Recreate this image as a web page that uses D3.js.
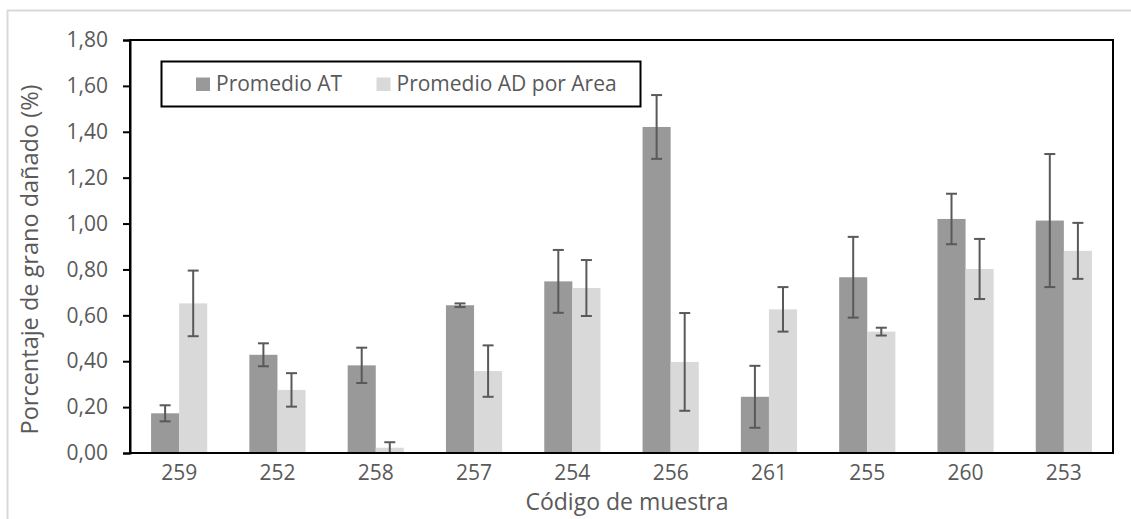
<!DOCTYPE html>
<html>
<head>
<meta charset="utf-8">
<script src="https://cdn.jsdelivr.net/npm/d3@7/dist/d3.min.js"></script>
<style>
  html, body { margin: 0; padding: 0; background: #fff; }
  svg { display: block; font-family: "Open Sans", sans-serif; }
</style>
</head>
<body>
<svg id="chart" width="1131" height="519"></svg>
<script>
// Sample codes along the x axis
const categories = ["259", "252", "258", "257", "254", "256", "261", "255", "260", "253"];
const seriesNames = ["Promedio AT", "Promedio AD por Area"];

// Mean damaged-grain percentage per sample
const promedioAT = [0.173, 0.428, 0.382, 0.644, 0.748, 1.421, 0.245, 0.766, 1.020, 1.013];
const promedioAD = [0.652, 0.275, 0.023, 0.357, 0.719, 0.397, 0.626, 0.529, 0.802, 0.881];

// Error bar half-widths (standard deviation)
const errorAT = [0.035, 0.050, 0.077, 0.008, 0.137, 0.139, 0.135, 0.176, 0.110, 0.290];
const errorAD = [0.143, 0.073, 0.024, 0.112, 0.122, 0.213, 0.097, 0.017, 0.131, 0.122];

const yTicks = [0, 0.2, 0.4, 0.6, 0.8, 1.0, 1.2, 1.4, 1.6, 1.8];

const colors = ["#999999", "#d9d9d9"];
const textColor = "#595959";
const labelSize = "21px";

const svg = d3.select("#chart");

// Outer chart frame
svg.append("rect")
  .attr("x", 7.5).attr("y", 10.5)
  .attr("width", 1140).attr("height", 530)
  .attr("fill", "none").attr("stroke", "#d9d9d9").attr("stroke-width", 2);

const plot = { left: 130, right: 1113, top: 40, bottom: 453 };

const y = d3.scaleLinear().domain([0, 1.8]).range([plot.bottom, plot.top]);

const x0 = d3.scaleBand()
  .domain(categories)
  .range([plot.left, plot.right])
  .paddingInner(1.5 / 3.5)
  .paddingOuter(0.75 / 3.5);

const x1 = d3.scaleBand()
  .domain(seriesNames)
  .range([0, x0.bandwidth()]);

const rows = categories.map((c, i) => ({
  cat: c,
  values: [
    { name: seriesNames[0], v: promedioAT[i], e: errorAT[i], color: colors[0] },
    { name: seriesNames[1], v: promedioAD[i], e: errorAD[i], color: colors[1] }
  ]
}));

// Bars
const groups = svg.append("g").selectAll("g")
  .data(rows).join("g")
  .attr("transform", d => `translate(${x0(d.cat)},0)`);

groups.selectAll("rect")
  .data(d => d.values).join("rect")
  .attr("x", d => x1(d.name))
  .attr("y", d => y(d.v))
  .attr("width", x1.bandwidth())
  .attr("height", d => y(0) - y(d.v))
  .attr("fill", d => d.color);

// Error bars
const capHalf = 5.5;
const eb = groups.selectAll("g.err")
  .data(d => d.values).join("g").attr("class", "err")
  .attr("stroke", "#595959").attr("stroke-width", 2);

const cx = d => x1(d.name) + x1.bandwidth() / 2;
eb.append("line")
  .attr("x1", cx).attr("x2", cx)
  .attr("y1", d => y(d.v + d.e))
  .attr("y2", d => y(Math.max(0, d.v - d.e)));
eb.append("line")
  .attr("x1", d => cx(d) - capHalf)
  .attr("x2", d => cx(d) + capHalf)
  .attr("y1", d => y(d.v + d.e))
  .attr("y2", d => y(d.v + d.e));
eb.append("line")
  .attr("x1", d => cx(d) - capHalf)
  .attr("x2", d => cx(d) + capHalf)
  .attr("y1", d => y(Math.max(0, d.v - d.e)))
  .attr("y2", d => y(Math.max(0, d.v - d.e)));

// Plot area border
svg.append("rect")
  .attr("x", plot.left).attr("y", plot.top)
  .attr("width", plot.right - plot.left).attr("height", plot.bottom - plot.top)
  .attr("fill", "none").attr("stroke", "#000").attr("stroke-width", 2);

// Y axis with comma decimals
const locale = d3.formatLocale({ decimal: ",", thousands: ".", grouping: [3], currency: ["", ""] });
const fmt = locale.format(".2f");

const yAxis = svg.append("g")
  .attr("transform", `translate(${plot.left},0)`)
  .call(d3.axisLeft(y).tickValues(yTicks).tickFormat(fmt).tickSize(7).tickPadding(15));
yAxis.select(".domain").attr("stroke", "#000").attr("stroke-width", 2);
yAxis.selectAll(".tick line").attr("stroke", "#000").attr("stroke-width", 2);
yAxis.selectAll(".tick text")
  .attr("fill", textColor)
  .style("font-size", labelSize)
  .style("font-family", "'Open Sans', sans-serif");

// X axis labels
const xAxis = svg.append("g")
  .attr("transform", `translate(0,${plot.bottom})`)
  .call(d3.axisBottom(x0).tickSize(0).tickPadding(12));
xAxis.select(".domain").remove();
xAxis.selectAll(".tick text")
  .attr("fill", textColor)
  .style("font-size", labelSize)
  .style("font-family", "'Open Sans', sans-serif");

// Axis titles
svg.append("text")
  .attr("x", 627)
  .attr("y", 510)
  .attr("text-anchor", "middle")
  .attr("fill", textColor)
  .style("font-size", "23px")
  .text("Código de muestra");

svg.append("text")
  .attr("transform", `translate(38,${(plot.top + plot.bottom) / 2 + 13}) rotate(-90)`)
  .attr("text-anchor", "middle")
  .attr("fill", textColor)
  .style("font-size", "23.5px")
  .text("Porcentaje de grano dañado (%)");

// Legend
const legend = svg.append("g");
legend.append("rect")
  .attr("x", 161.5).attr("y", 61.5)
  .attr("width", 479).attr("height", 45)
  .attr("fill", "#fff").attr("stroke", "#000").attr("stroke-width", 2);

const legendX = [196, 376.5];
seriesNames.forEach((name, i) => {
  legend.append("rect")
    .attr("x", legendX[i]).attr("y", 77.5)
    .attr("width", 14).attr("height", 13.5)
    .attr("fill", colors[i]);
  legend.append("text")
    .attr("x", legendX[i] + 20).attr("y", 91)
    .attr("fill", textColor)
    .style("font-size", labelSize)
    .text(name);
});
</script>
</body>
</html>
